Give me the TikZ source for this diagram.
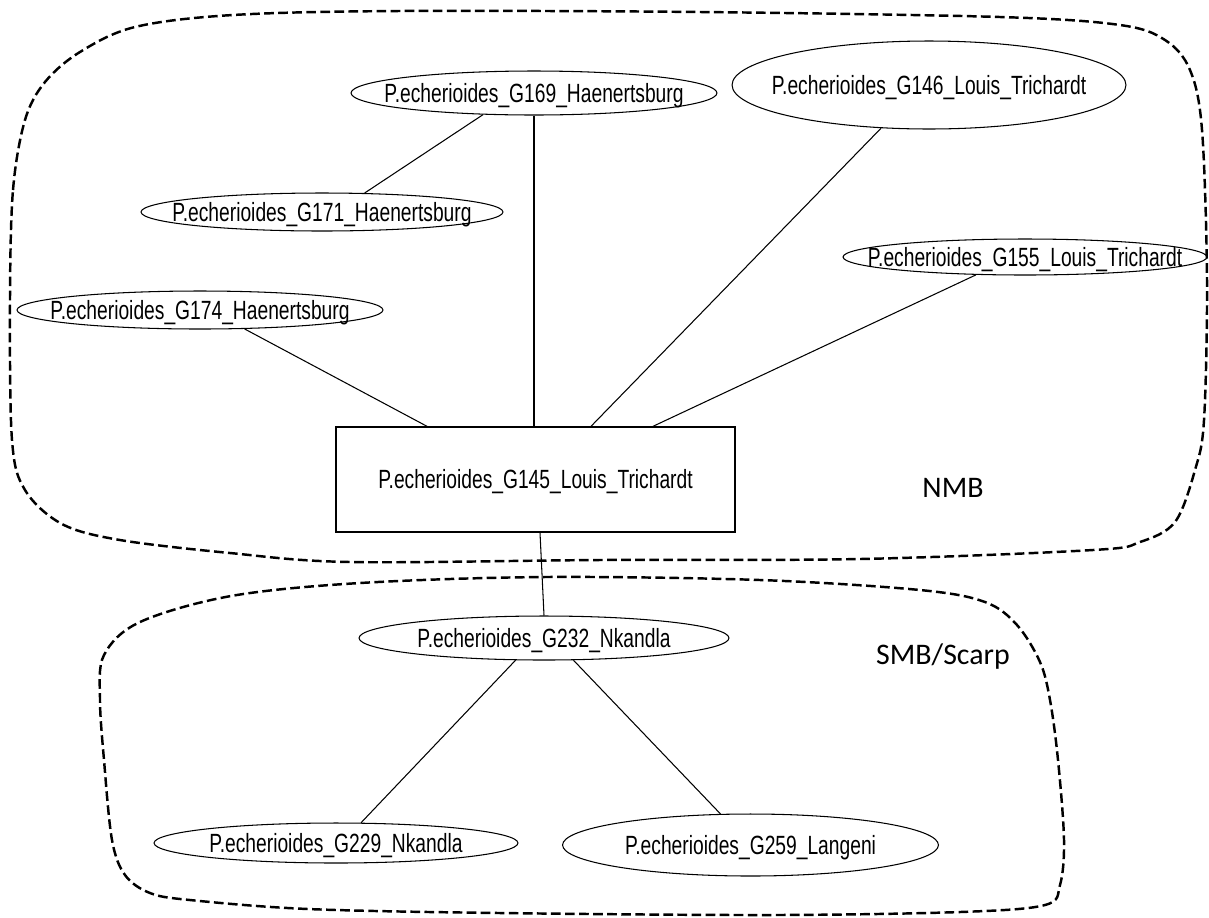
\documentclass[tikz,border=0pt]{standalone}
\usepackage{fontspec}
\newfontfamily\narrowfont[FakeStretch=0.73]{Liberation Sans}
\newfontfamily\regionfont{Carlito}
\usetikzlibrary{calc, shapes.geometric}
\newcommand{\taxlabel}[1]{\makebox[0pt]{#1}}

\tikzset{
  taxon/.style 2 args={ellipse, draw, line width=0.6pt, inner sep=0pt,
    minimum width=#1, minimum height=#2,
    font=\narrowfont\fontsize{15}{18}\selectfont, text height=10.7pt, text depth=0pt},
  hubbox/.style={rectangle, draw, line width=0.8pt, inner sep=0pt,
    minimum width=7.98cm, minimum height=2.1cm,
    font=\narrowfont\fontsize{15}{18}\selectfont, text height=10.7pt, text depth=0pt},
  link/.style={line width=0.6pt},
  region/.style={line width=1.4pt, dash pattern=on 5.5pt off 2.5pt},
  regionname/.style={font=\regionfont\fontsize{17}{20}\selectfont, inner sep=0pt}
}

\begin{document}
\begin{tikzpicture}[x=0.02cm, y=-0.02cm]
  \useasboundingbox (0,0) rectangle (1209,917);

  % --- NMB ---
  \draw[region] plot[smooth cycle, tension=0.55] coordinates {
    (10,300) (13,190) (25,120) (45,82) (80,52) (135,27) (233,15) (400,11)
    (700,12) (1000,17) (1120,25) (1165,40) (1190,70) (1202,130) (1207,280)
    (1204,420) (1195,470) (1175,522) (1140,542) (1093,550) (860,559)
    (600,560) (350,562) (230,553) (120,540) (62,524) (25,490) (12,440)};
  \node[regionname] (nmb) at (953,488) {NMB};

  % --- SMB/Scarp ---
  \draw[region] plot[smooth cycle, tension=0.55] coordinates {
    (104,655) (140,622) (231,596) (360,583) (545,577) (760,580)
    (920,590) (985,602) (1017,625) (1040,662) (1050,700) (1058,760)
    (1064,840) (1060,885) (1045,905) (960,912) (771,915) (500,913)
    (308,909) (190,900) (150,893) (125,875) (112,840) (104,760) (100,700)};
  \node[regionname] (smb) at (943,657) {SMB/Scarp};

  % centre of the network
  \node[hubbox] (g145) at (535.5,479.5) {P.echerioides\_G145\_Louis\_Trichardt};

  % northern samples
  \node[taxon={7.32cm}{0.88cm}] (g169) at (534,93) {\taxlabel{P.echerioides\_G169\_Haenertsburg}};
  \node[taxon={7.88cm}{1.76cm}] (g146) at (929,85) {\taxlabel{P.echerioides\_G146\_Louis\_Trichardt}};
  \node[taxon={7.24cm}{0.76cm}] (g171) at (322,212) {\taxlabel{P.echerioides\_G171\_Haenertsburg}};
  \node[taxon={7.28cm}{0.72cm}] (g155) at (1025,257) {\taxlabel{P.echerioides\_G155\_Louis\_Trichardt}};
  \node[taxon={7.32cm}{0.76cm}] (g174) at (200,310) {\taxlabel{P.echerioides\_G174\_Haenertsburg}};

  % southern samples
  \node[taxon={7.40cm}{0.88cm}] (g232) at (544,638) {\taxlabel{P.echerioides\_G232\_Nkandla}};
  \node[taxon={7.28cm}{0.80cm}] (g229) at (336,843) {\taxlabel{P.echerioides\_G229\_Nkandla}};
  \node[taxon={7.52cm}{1.24cm}] (g259) at (750.5,845) {\taxlabel{P.echerioides\_G259\_Langeni}};

  % links
  \draw[link] (g169.203.8) -- (g171.24.8);
  \draw[link] (g169.south) -- (g169.south |- g145.north);
  \draw[link] (g174.337.8) -- ($(g145.north)+(-108.5,0)$);
  \draw[link] (g146.222.9) -- ($(g145.north)+(55.5,0)$);
  \draw[link] (g155.200.7) -- ($(g145.north)+(117.5,0)$);
  \draw[link] ($(g145.south)+(4.5,0)$) -- (g232.north);
  \draw[link] (g232.218.9) -- (g229.39.5);
  \draw[link] (g232.323.2) -- (g259.134.4);
\end{tikzpicture}
\end{document}
